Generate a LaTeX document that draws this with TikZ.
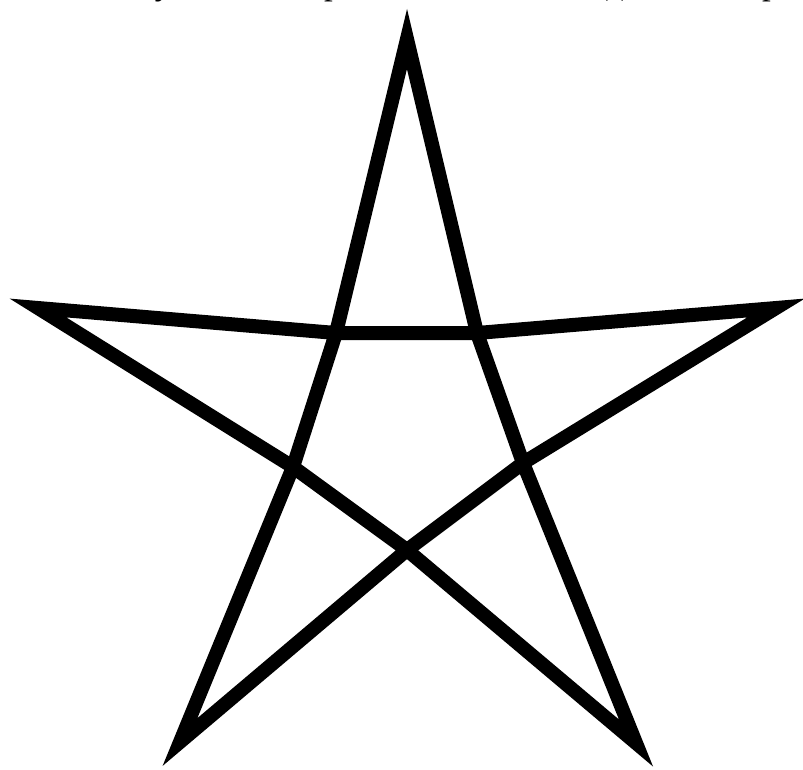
\documentclass[tikz,border=0pt]{standalone}
\usepackage{fontspec}
\setmainfont{Liberation Serif}

\begin{document}
\begin{tikzpicture}[x=1pt, y=-1pt, starline/.style={line width=14pt, line join=miter, miter limit=10}]
      \useasboundingbox (0,0) rectangle (803,769);
      \clip (0,0) rectangle (803,769);
      \node[anchor=base west, inner sep=0pt, font=\fontsize{35}{40}\selectfont] (txt) at (0,-6) {как — \textit{модуль} — материи. После этого идет пентаграмма};
      \coordinate (T) at (407,39);
      \coordinate (LT) at (38,308);
      \coordinate (RT) at (776,308);
      \coordinate (BL) at (180,742);
      \coordinate (BR) at (636,743);
      \coordinate (A1) at (336,333);
      \coordinate (A2) at (477,333);
      \coordinate (L1) at (293,467);
      \coordinate (R1) at (523,463);
      \coordinate (C) at (407,550);
      \draw[starline] (T) -- (A1) -- (L1) -- (BL) -- (C) -- (R1) -- (RT) -- (A2) -- (A1) -- (LT) -- (L1) -- (C) -- (BR) -- (R1) -- (A2) -- cycle;
\end{tikzpicture}
\end{document}
